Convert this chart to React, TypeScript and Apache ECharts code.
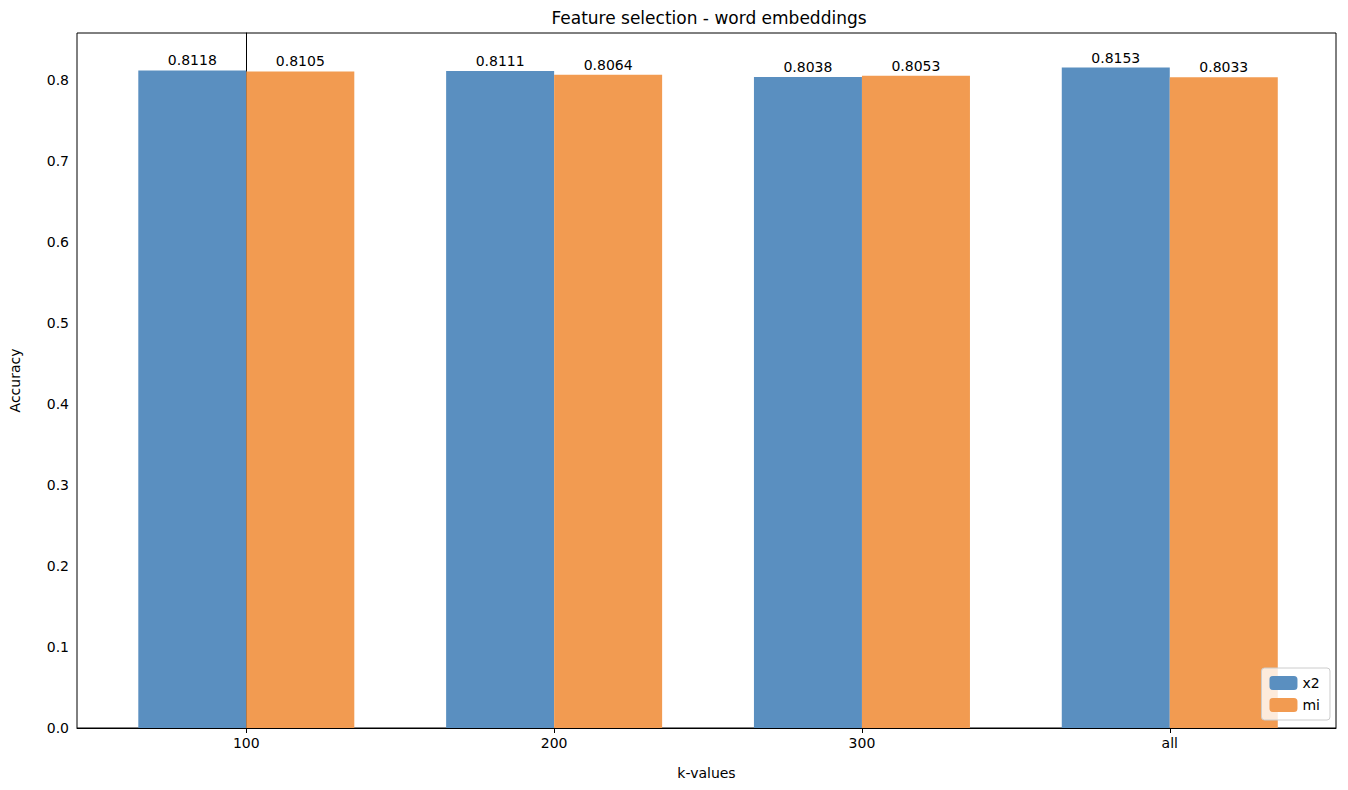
import React, { useEffect, useRef } from "react";
import * as echarts from "echarts";

const categories = ["100", "200", "300", "all"];
const x2Values = [0.8118, 0.8111, 0.8038, 0.8153];
const miValues = [0.8105, 0.8064, 0.8053, 0.8033];
const yTicks = [0, 0.1, 0.2, 0.3, 0.4, 0.5, 0.6, 0.7, 0.8];

export default function App() {
  const ref = useRef<HTMLDivElement>(null);
  useEffect(() => {
    document.body.style.margin = "0";
    const chart = echarts.init(ref.current!, null, { renderer: "svg" });
    const font = "DejaVu Sans";
    const pos = categories.map((_, i) => i);
    chart.setOption({
      animation: false,
      textStyle: { fontFamily: font },
      title: {
        text: "Feature selection - word embeddings",
        left: 704, top: 4, textAlign: "center",
        textStyle: { fontFamily: font, fontSize: 17, fontWeight: "normal", color: "#000" },
      },
      grid: { left: 72, right: 12, top: 33, bottom: 62, show: true, borderColor: "#000", borderWidth: 1 },
      legend: {
        orient: "vertical", right: 18, bottom: 70,
        itemWidth: 28, itemHeight: 14, itemGap: 8,
        borderColor: "#ccc", borderWidth: 1, borderRadius: 3, padding: [8, 10, 8, 8],
        backgroundColor: "rgba(255,255,255,0.8)",
        textStyle: { fontFamily: font, fontSize: 14, color: "#000" },
        data: ["x2", "mi"],
      },
      xAxis: {
        type: "value", min: -0.55, max: 3.54,
        name: "k-values", nameLocation: "middle", nameGap: 38,
        nameTextStyle: { fontFamily: font, fontSize: 14, color: "#000" },
        splitLine: { show: false },
        axisLine: { lineStyle: { color: "#000" } },
        axisTick: { show: true, customValues: pos, length: 5, lineStyle: { color: "#000" } },
        axisLabel: {
          customValues: pos, fontSize: 14, color: "#000", margin: 8,
          formatter: (v: number) => categories[Math.round(v)] ?? "",
        },
      },
      yAxis: {
        type: "value", min: 0, max: 0.858,
        name: "Accuracy", nameLocation: "middle", nameGap: 55,
        nameTextStyle: { fontFamily: font, fontSize: 14, color: "#000" },
        splitLine: { show: false },
        axisLine: { show: true, lineStyle: { color: "#000" } },
        axisTick: { show: true, customValues: yTicks, length: 5, lineStyle: { color: "#000" } },
        axisLabel: { customValues: yTicks, fontSize: 14, color: "#000", formatter: (v: number) => v.toFixed(1) },
      },
      series: [
        {
          name: "x2", type: "bar", barWidth: 108, barGap: "0%",
          itemStyle: { color: "#5a8fc0" },
          label: { show: true, position: "top", distance: 3, fontSize: 14, color: "#000",
            formatter: (p: any) => p.value[1].toFixed(4) },
          data: x2Values.map((v, i) => [i, v]),
        },
        {
          name: "mi", type: "bar", barWidth: 108, barGap: "0%",
          itemStyle: { color: "#f29b51" },
          label: { show: true, position: "top", distance: 3, fontSize: 14, color: "#000",
            formatter: (p: any) => p.value[1].toFixed(4) },
          data: miValues.map((v, i) => [i, v]),
        },
      ],
    });
    return () => chart.dispose();
  }, []);
  return <div ref={ref} style={{ width: 1348, height: 790, background: "#fff" }} />;
}
